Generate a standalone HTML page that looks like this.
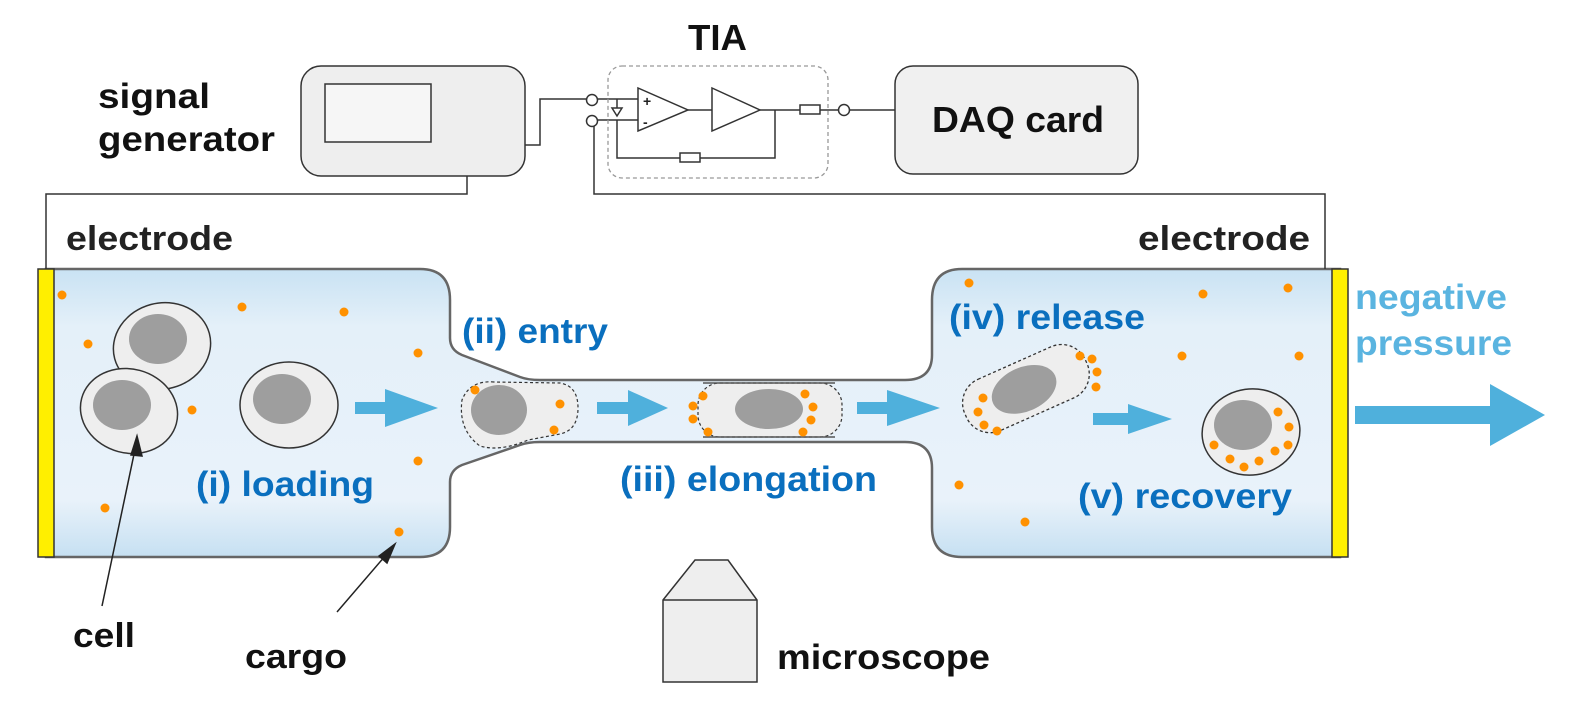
<!DOCTYPE html>
<html><head><meta charset="utf-8"><style>
html,body{margin:0;padding:0;background:#fff}
svg{display:block}
text{font-family:"Liberation Sans",Arial,sans-serif;font-weight:bold}
</style></head><body>
<svg width="1586" height="720" viewBox="0 0 1586 720" xmlns="http://www.w3.org/2000/svg">
<defs>
<linearGradient id="g" x1="0" y1="0" x2="0" y2="1">
<stop offset="0" stop-color="#c9e2f3"/><stop offset="0.2" stop-color="#e4f0f9"/><stop offset="0.8" stop-color="#e9f2fa"/><stop offset="1" stop-color="#c6e0f2"/>
</linearGradient>
</defs>
<path d="M46 269 H420 Q450 269 450 300 V338 Q450 350 462 355 L520 377 Q528 380 540 380 H905 Q932 380 932 355 V300 Q932 269 962 269 H1340 V557 H962 Q932 557 932 527 V468 Q932 442 905 442 H540 Q528 442 520 445 L462 465 Q450 470 450 482 V527 Q450 557 420 557 H46 Z" fill="url(#g)" stroke="#666" stroke-width="2.5"/>
<rect x="38" y="269" width="16" height="288" fill="#ffef00" stroke="#333" stroke-width="1.5"/>
<rect x="1332" y="269" width="16" height="288" fill="#ffef00" stroke="#333" stroke-width="1.5"/>
<g fill="none" stroke="#333" stroke-width="1.5">
<polyline points="46,269 46,194 467,194 467,145"/>
<polyline points="498,145 540,145 540,99 587,99"/>
<polyline points="594,123 594,194 1325,194 1325,269"/>
<polyline points="598,99 638,99"/>
<polyline points="598,120 638,120"/>
<polyline points="617,99 617,108"/>
<polygon points="612,108 622,108 617,116"/>
<polyline points="617,120 617,158 680,158"/>
<rect x="680" y="153" width="20" height="9"/>
<polyline points="700,158 775,158 775,110"/>
<polygon points="638,88 638,131 688,110" fill="#fff"/>
<line x1="688" y1="110" x2="712" y2="110"/>
<polygon points="712,88 712,131 760,110" fill="#fff"/>
<line x1="760" y1="110" x2="800" y2="110"/>
<rect x="800" y="105" width="20" height="9"/>
<line x1="820" y1="110" x2="838" y2="110"/>
<line x1="850" y1="110" x2="895" y2="110"/>
<circle cx="592" cy="100" r="5.5" fill="#fff"/>
<circle cx="592" cy="121" r="5.5" fill="#fff"/>
<circle cx="844" cy="110" r="5.5" fill="#fff"/>
<circle cx="467" cy="144" r="5.5" fill="#fff"/>
<circle cx="492" cy="144" r="5.5" fill="#fff"/>
</g>
<text x="643" y="106" font-size="14" fill="#222">+</text>
<text x="643" y="127" font-size="14" fill="#222">-</text>
<rect x="608" y="66" width="220" height="112" rx="14" fill="none" stroke="#999" stroke-width="1.3" stroke-dasharray="4,3"/>
<rect x="301" y="66" width="224" height="110" rx="20" fill="#eee" stroke="#333" stroke-width="1.5"/>
<rect x="325" y="84" width="106" height="58" fill="#f6f6f6" stroke="#333" stroke-width="1.5"/>
<rect x="895" y="66" width="243" height="108" rx="18" fill="#f0f0f0" stroke="#333" stroke-width="1.5"/>
<text x="932" y="132" font-size="36" textLength="172" lengthAdjust="spacingAndGlyphs" fill="#111">DAQ card</text>
<text x="688" y="50" font-size="36" textLength="59" lengthAdjust="spacingAndGlyphs" fill="#111">TIA</text>
<text x="98" y="108" font-size="35" textLength="112" lengthAdjust="spacingAndGlyphs" fill="#111">signal</text>
<text x="98" y="151" font-size="35" textLength="177" lengthAdjust="spacingAndGlyphs" fill="#111">generator</text>
<text x="66" y="250" font-size="34" textLength="167" lengthAdjust="spacingAndGlyphs" fill="#222">electrode</text>
<text x="1138" y="250" font-size="34" textLength="172" lengthAdjust="spacingAndGlyphs" fill="#222">electrode</text>
<g stroke="#333" stroke-width="1.5">
<ellipse cx="162" cy="346" rx="49" ry="43" fill="#eee" transform="rotate(-15 162 346)"/>
<ellipse cx="158" cy="339" rx="29" ry="25" fill="#9e9e9e" stroke="none"/>
<ellipse cx="129" cy="411" rx="49" ry="42" fill="#eee" transform="rotate(15 129 411)"/>
<ellipse cx="122" cy="405" rx="29" ry="25" fill="#9e9e9e" stroke="none"/>
<ellipse cx="289" cy="405" rx="49" ry="43" fill="#eee"/>
<ellipse cx="282" cy="399" rx="29" ry="25" fill="#9e9e9e" stroke="none"/>
</g>
<g fill="#4fb0dc">
<polygon points="355,402 385,402 385,389 438,408 385,427 385,414 355,414"/>
<polygon points="597,402 628,402 628,390 668,408 628,426 628,414 597,414"/>
<polygon points="857,402 887,402 887,390 940,408 887,426 887,414 857,414"/>
<polygon points="1093,413 1128,413 1128,404 1172,419 1128,434 1128,425 1093,425"/>
<polygon points="1355,406 1490,406 1490,384 1545,415 1490,446 1490,424 1355,424"/>
</g>
<path d="M494 382 Q470 380 462 400 Q458 430 480 446 Q500 452 528 440 L560 434 Q578 430 578 408 Q578 386 560 383 Z" fill="#eee" stroke="#333" stroke-width="1.2" stroke-dasharray="3,2.5"/>
<ellipse cx="499" cy="410" rx="28" ry="25" fill="#9e9e9e"/>
<rect x="698" y="383" width="144" height="54" rx="22" fill="#eee" stroke="#333" stroke-width="1.2" stroke-dasharray="3,2.5"/>
<line x1="703" y1="383" x2="835" y2="383" stroke="#555" stroke-width="1.5"/>
<line x1="703" y1="437" x2="835" y2="437" stroke="#555" stroke-width="1.5"/>
<ellipse cx="769" cy="409" rx="34" ry="20" fill="#9e9e9e"/>
<g transform="rotate(-24 1025 389)">
<rect x="960" y="361" width="132" height="56" rx="26" fill="#eee" stroke="#333" stroke-width="1.3" stroke-dasharray="3,2.5"/>
<ellipse cx="1024" cy="389" rx="34" ry="22" fill="#9e9e9e"/>
</g>
<ellipse cx="1251" cy="432" rx="49" ry="43" fill="#eee" stroke="#333" stroke-width="1.5" transform="rotate(-8 1251 432)"/>
<ellipse cx="1243" cy="425" rx="29" ry="25" fill="#9e9e9e"/>
<g fill="#ff9100">
<circle cx="62" cy="295" r="4.5"/><circle cx="88" cy="344" r="4.5"/><circle cx="242" cy="307" r="4.5"/><circle cx="344" cy="312" r="4.5"/>
<circle cx="192" cy="410" r="4.5"/><circle cx="418" cy="353" r="4.5"/><circle cx="418" cy="461" r="4.5"/><circle cx="105" cy="508" r="4.5"/><circle cx="399" cy="532" r="4.5"/>
<circle cx="475" cy="390" r="4.5"/><circle cx="560" cy="404" r="4.5"/><circle cx="554" cy="430" r="4.5"/>
<circle cx="703" cy="396" r="4.5"/><circle cx="693" cy="406" r="4.5"/><circle cx="693" cy="419" r="4.5"/><circle cx="708" cy="432" r="4.5"/>
<circle cx="805" cy="394" r="4.5"/><circle cx="813" cy="407" r="4.5"/><circle cx="811" cy="420" r="4.5"/><circle cx="803" cy="432" r="4.5"/>
<circle cx="983" cy="398" r="4.5"/><circle cx="978" cy="412" r="4.5"/><circle cx="984" cy="425" r="4.5"/><circle cx="997" cy="431" r="4.5"/>
<circle cx="1080" cy="356" r="4.5"/><circle cx="1092" cy="359" r="4.5"/><circle cx="1097" cy="372" r="4.5"/><circle cx="1096" cy="387" r="4.5"/>
<circle cx="1278" cy="412" r="4.5"/><circle cx="1289" cy="427" r="4.5"/><circle cx="1288" cy="445" r="4.5"/><circle cx="1275" cy="451" r="4.5"/><circle cx="1259" cy="461" r="4.5"/><circle cx="1244" cy="467" r="4.5"/><circle cx="1230" cy="459" r="4.5"/><circle cx="1214" cy="445" r="4.5"/>
<circle cx="969" cy="283" r="4.5"/><circle cx="1203" cy="294" r="4.5"/><circle cx="1288" cy="288" r="4.5"/><circle cx="1182" cy="356" r="4.5"/><circle cx="1299" cy="356" r="4.5"/><circle cx="959" cy="485" r="4.5"/><circle cx="1025" cy="522" r="4.5"/>
</g>
<g fill="#0a6fbe" font-size="35">
<text x="462" y="343" textLength="146" lengthAdjust="spacingAndGlyphs">(ii) entry</text>
<text x="196" y="496" textLength="178" lengthAdjust="spacingAndGlyphs">(i) loading</text>
<text x="620" y="491" textLength="257" lengthAdjust="spacingAndGlyphs">(iii) elongation</text>
<text x="949" y="329" textLength="196" lengthAdjust="spacingAndGlyphs">(iv) release</text>
<text x="1078" y="508" textLength="214" lengthAdjust="spacingAndGlyphs">(v) recovery</text>
</g>
<g fill="#5ab4e0" font-size="35">
<text x="1355" y="309" textLength="152" lengthAdjust="spacingAndGlyphs">negative</text>
<text x="1355" y="355" textLength="157" lengthAdjust="spacingAndGlyphs">pressure</text>
</g>
<g stroke="#222" stroke-width="1.5" fill="#222">
<line x1="102" y1="606" x2="137" y2="440"/>
<polygon points="137,436 131,455 142,456"/>
<line x1="337" y1="612" x2="392" y2="548"/>
<polygon points="395,544 379,556 387,563"/>
</g>
<text x="73" y="647" font-size="34" textLength="62" lengthAdjust="spacingAndGlyphs" fill="#111">cell</text>
<text x="245" y="668" font-size="34" textLength="102" lengthAdjust="spacingAndGlyphs" fill="#111">cargo</text>
<path d="M663 600 L695 560 H728 L757 600 V682 H663 Z" fill="#eee" stroke="#333" stroke-width="1.5"/>
<line x1="663" y1="600" x2="757" y2="600" stroke="#333" stroke-width="1.5"/>
<text x="777" y="669" font-size="35" textLength="213" lengthAdjust="spacingAndGlyphs" fill="#111">microscope</text>
</svg>
</body></html>
